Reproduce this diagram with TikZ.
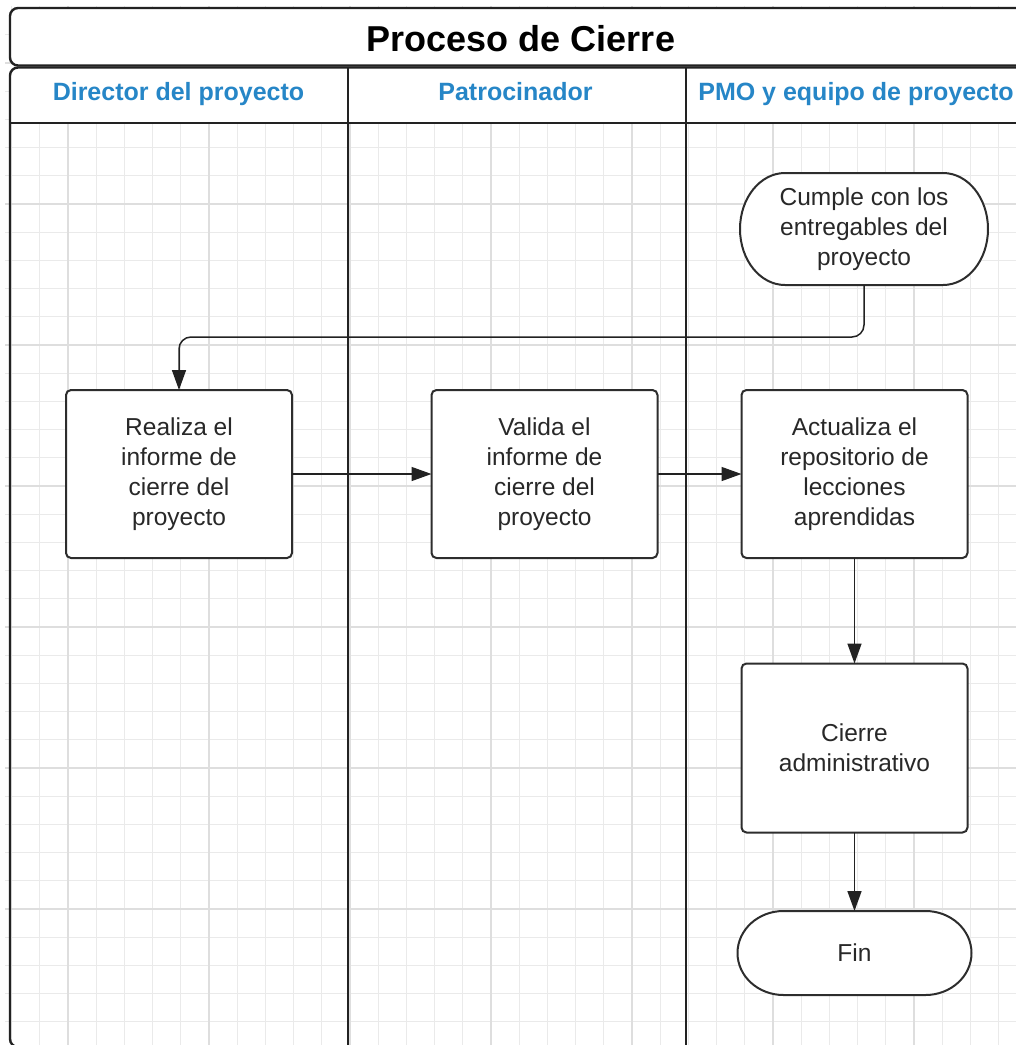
\documentclass[tikz,border=0pt]{standalone}
\usepackage{fontspec}
\setmainfont{Liberation Sans}
\usetikzlibrary{arrows.meta,backgrounds}
\definecolor{lanehead}{RGB}{38,134,199}
\definecolor{gridminor}{RGB}{234,234,234}
\definecolor{gridmajor}{RGB}{222,222,222}
\definecolor{ink}{RGB}{34,34,34}
\definecolor{boxink}{RGB}{45,45,45}
\definecolor{textink}{RGB}{40,40,40}

\begin{document}
\begin{tikzpicture}[x=1pt,y=-1pt,
  frame/.style={draw=ink, line width=2.4pt},
  lanetitle/.style={anchor=base, text=lanehead, font=\fontsize{25}{30}\selectfont\bfseries},
  procbox/.style={draw=boxink, fill=white, line width=2pt, rounded corners=5pt,
    minimum width=226pt, minimum height=168pt, inner sep=0pt, outer sep=0pt,
    align=center, text=textink, font=\fontsize{24.5}{30}\selectfont},
  termbox/.style={draw=none, minimum width=#1, inner sep=0pt, outer sep=0pt,
    align=center, text=textink, font=\fontsize{24.5}{30}\selectfont},
  termline/.style={draw=boxink, fill=white, line width=2pt},
  conn/.style={draw=ink, line width=1.5pt, -{Triangle[length=20pt,width=14pt]}},
]
\useasboundingbox (0,0) rectangle (1016,1045);
\clip (0,0) rectangle (1016,1045);

% background grid
\begin{scope}[on background layer]
  \foreach \i in {1,...,36}
    \draw[gridminor, line width=1.3pt] (5,{6.6+28.2*\i}) -- (1016,{6.6+28.2*\i});
  \foreach \i in {0,...,36}
    \draw[gridminor, line width=1.3pt] ({11.6+28.2*\i},6) -- ({11.6+28.2*\i},1045);
  \foreach \i in {2,7,12,17,22,27,32} {
    \draw[gridmajor, line width=1.5pt] (5,{6.6+28.2*\i}) -- (1016,{6.6+28.2*\i});
    \draw[gridmajor, line width=1.5pt] ({11.6+28.2*\i},6) -- ({11.6+28.2*\i},1045);
  }
\end{scope}

% pool frame, title and lane headers
\fill[white] (11,9) rectangle (1030,123);
\draw[frame, rounded corners=8pt] (1030,8) -- (10,8) -- (10,65.5) -- (1030,65.5);
\draw[frame, rounded corners=8pt] (1030,67.5) -- (10,67.5) -- (10,1047) -- (1030,1047);
\draw[frame] (10,123) -- (1030,123);
\draw[frame] (348,67.5) -- (348,1050);
\draw[frame] (686,67.5) -- (686,1050);

\node[anchor=base, font=\fontsize{36}{43}\selectfont\bfseries] (title) at (521,51) {Proceso de Cierre};
\node[lanetitle] (lane1) at (178.5,100) {Director del proyecto};
\node[lanetitle] (lane2) at (515.5,100) {Patrocinador};
\node[lanetitle] (lane3) at (856,100) {PMO y equipo de proyecto};

% activities
\node[termbox=248pt, minimum height=112pt] (start) at (864,229) {Cumple con los\\entregables del\\proyecto};
\begin{scope}[on background layer]
  \draw[termline] ([xshift=45pt]start.north west) -- ([xshift=-45pt]start.north east)
    arc[start angle=90, end angle=-90, x radius=45pt, y radius=56pt]
    -- ([xshift=45pt]start.south west)
    arc[start angle=270, end angle=90, x radius=45pt, y radius=56pt] -- cycle;
\end{scope}

\node[procbox] (report) at (179,474) {Realiza el\\informe de\\cierre del\\proyecto};
\node[procbox] (validate) at (544.5,474) {Valida el\\informe de\\cierre del\\proyecto};
\node[procbox] (lessons) at (854.5,474) {Actualiza el\\repositorio de\\lecciones\\aprendidas};
\node[procbox, minimum height=169pt] (admin) at (854.5,748) {Cierre\\administrativo};

\node[termbox=234pt, minimum height=84pt] (end) at (854.5,953) {Fin};
\begin{scope}[on background layer]
  \draw[termline] ([xshift=46pt]end.north west) -- ([xshift=-46pt]end.north east)
    arc[start angle=90, end angle=-90, x radius=46pt, y radius=42pt]
    -- ([xshift=46pt]end.south west)
    arc[start angle=270, end angle=90, x radius=46pt, y radius=42pt] -- cycle;
\end{scope}

% flow
\draw[conn, rounded corners=12pt] (start.south) -- ++(0,52) -| (report.north);
\draw[conn] (report.east) -- (validate.west);
\draw[conn] (validate.east) -- (lessons.west);
\draw[conn] (lessons.south) -- (admin.north);
\draw[conn] (admin.south) -- (end.north);
\end{tikzpicture}
\end{document}
